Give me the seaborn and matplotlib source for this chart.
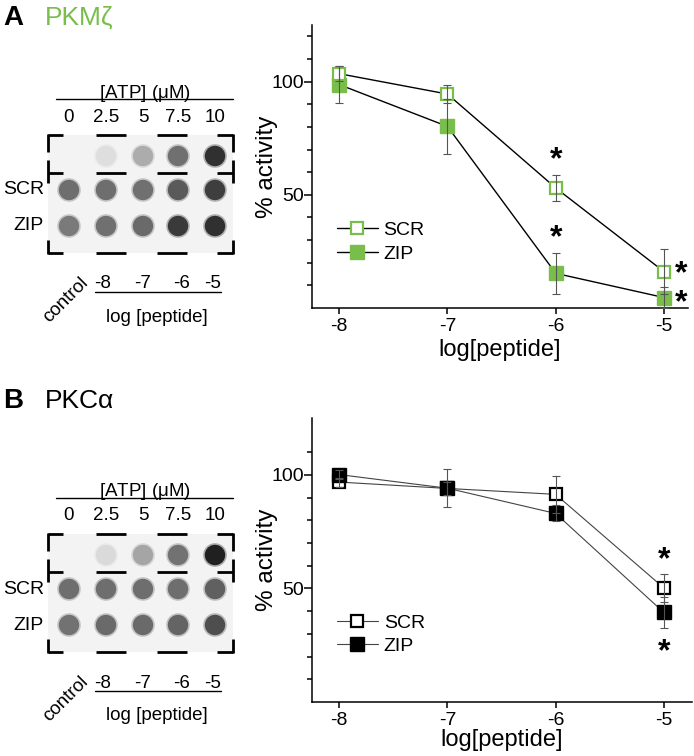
import numpy as np
import pandas as pd
import matplotlib
matplotlib.use("Agg")
import matplotlib.pyplot as plt
import seaborn as sns
from matplotlib.lines import Line2D
from matplotlib.patches import Rectangle
from matplotlib.ticker import FixedLocator

sns.set_theme(style="white")
plt.rcParams['font.family'] = ['Liberation Sans', 'DejaVu Sans']
plt.rcParams['axes.unicode_minus'] = False
plt.rcParams['mathtext.fontset'] = 'dejavusans'
plt.rcParams['text.color'] = 'black'
plt.rcParams['axes.labelcolor'] = 'black'
plt.rcParams['xtick.color'] = 'black'
plt.rcParams['ytick.color'] = 'black'

GREEN = "#79bd4b"

# ---- data ----
log_peptide = [-8, -7, -6, -5]
peptide_labels = ["-8", "-7", "-6", "-5"]
atp_levels = ["0", "2.5", "5", "7.5", "10"]

# % activity (mean, error)
pkmz_scr = [103.5, 94.5, 53.0, 16.0]
pkmz_scr_err = [3.4, 3.8, 5.7, 10.0]
pkmz_zip = [98.7, 80.2, 15.3, 4.6]
pkmz_zip_err = [8.1, 12.0, 9.0, 4.6]

pkca_scr = [96.8, 94.0, 91.4, 50.2]
pkca_scr_err = [2.0, 3.0, 8.0, 6.0]
pkca_zip = [100.1, 94.1, 83.0, 39.4]
pkca_zip_err = [2.0, 8.3, 3.5, 7.0]

# dot blot grey levels (0 black .. 255 white), NaN = no spot
pkmz_blot_atp = [np.nan, 222, 172, 112, 48]
pkmz_blot_scr = [110, 110, 112, 90, 62]
pkmz_blot_zip = [122, 112, 106, 58, 48]

pkca_blot_atp = [np.nan, 218, 165, 114, 32]
pkca_blot_scr = [110, 110, 110, 110, 96]
pkca_blot_zip = [114, 106, 106, 100, 78]

# asterisks: (x, y, text) in data units; stacked pair written as one text
pkmz_stars = [(-6, 67.0, "*"), (-6, 32.5, "*"), (-4.84, 8.5, "*\n*")]
pkca_stars = [(-5, 64.0, "*"), (-5, 23.5, "*")]

W, H = 694, 756
fig = plt.figure(figsize=(W / 100, H / 100), dpi=100)

# overlay axes in pixel coordinates for the blot images and panel titles
bax = fig.add_axes([0, 0, 1, 1])
bax.set_xlim(0, W)
bax.set_ylim(H, 0)
bax.axis("off")

col_x = [69, 106, 143, 178, 215]
row_y = [156, 190, 226]


def draw_blot(ax, dy, rows, letter, name, name_color, title_dy):
    ax.text(3, 25 + title_dy, letter, fontsize=20, fontweight="bold", va="baseline")
    ax.text(45, 25 + title_dy, name, fontsize=19, color=name_color, va="baseline")

    ax.add_patch(Rectangle((48, 135 + dy), 185, 118, color="#f3f3f3", zorder=0, lw=0))

    kw = dict(color="black", lw=2, solid_capstyle="butt", zorder=3)
    for yb in (135, 173, 253):
        y = yb + dy
        for a, b in ((96, 126), (157, 187)):
            ax.plot([a, b], [y, y], **kw)
        ax.plot([48, 63], [y, y], **kw)
        ax.plot([217, 233], [y, y], **kw)
    # corner / side verticals
    for x in (48, 233):
        ax.plot([x, x], [134 + dy, 152 + dy], **kw)
        ax.plot([x, x], [160 + dy, 183 + dy], **kw)
        ax.plot([x, x], [240 + dy, 254 + dy], **kw)

    recs = []
    for r, vals in enumerate(rows):
        for c, v in enumerate(vals):
            if not np.isnan(v):
                recs.append({"x": col_x[c], "y": row_y[r] + dy, "level": v})
    df = pd.DataFrame(recs)
    sns.scatterplot(data=df, x="x", y="y", hue="level", palette="gray", hue_norm=(0, 255),
                    s=290, linewidth=0, alpha=0.35, legend=False, ax=ax, zorder=1)
    sns.scatterplot(data=df, x="x", y="y", hue="level", palette="gray", hue_norm=(0, 255),
                    s=215, linewidth=0, legend=False, ax=ax, zorder=2)

    ax.text(145, 93 + dy, r"[ATP] ($\mathregular{\mu}$M)", fontsize=13.5, ha="center", va="center")
    ax.plot([56, 233], [99 + dy, 99 + dy], color="black", lw=1)
    for x, lab in zip(col_x, atp_levels):
        ax.text(x, 117 + dy, lab, fontsize=13.5, ha="center", va="center")
    ax.text(44, 190 + dy, "SCR", fontsize=14, ha="right", va="center")
    ax.text(44, 226 + dy, "ZIP", fontsize=14, ha="right", va="center")

    for x, lab in zip([103, 143, 182, 213], peptide_labels):
        ax.text(x, 284 + dy, lab, fontsize=13.5, ha="center", va="center")
    ax.plot([95, 221], [292 + dy, 292 + dy], color="black", lw=1)
    ax.text(157, 317 + dy, "log [peptide]", fontsize=13.5, ha="center", va="center")
    ax.text(66, 300 + dy, "control", fontsize=13.5, ha="center", va="center", rotation=45,
            rotation_mode="anchor")


def draw_curve(ax, scr, scr_err, zp, zp_err, color, line_color, line_w, msize, scr_on_top,
               xmax, minor, stars, leg_y, ylab_x, xlab_pad):
    df = pd.DataFrame({"log": log_peptide, "SCR": scr, "ZIP": zp})
    z_scr, z_zip = (3, 2) if scr_on_top else (2, 3)
    sns.lineplot(data=df, x="log", y="ZIP", ax=ax, color=line_color, lw=line_w, marker="s",
                 markersize=msize, markerfacecolor=color, markeredgecolor=color,
                 markeredgewidth=1, zorder=z_zip)
    sns.lineplot(data=df, x="log", y="SCR", ax=ax, color=line_color, lw=line_w, marker="s",
                 markersize=msize - 1.2, markerfacecolor="white", markeredgecolor=color,
                 markeredgewidth=1.6, zorder=z_scr)
    ax.errorbar(log_peptide, scr, yerr=scr_err, fmt="none", ecolor="#555555", elinewidth=0.8,
                capsize=3, capthick=0.8, zorder=5)
    ax.errorbar(log_peptide, zp, yerr=zp_err, fmt="none", ecolor="#555555", elinewidth=0.8,
                capsize=3, capthick=0.8, zorder=5)

    for x, y, s in stars:
        if "\n" in s:
            ax.text(x, y, s, fontsize=23, fontweight="bold", ha="center", va="center",
                    linespacing=0.92, zorder=6)
        else:
            ax.text(x, y, s, fontsize=23, fontweight="bold", ha="center",
                    va="center_baseline", zorder=6)

    ax.set_xlim(-8.25, xmax)
    ax.set_ylim(0, 125)
    ax.set_xticks(log_peptide)
    ax.set_xticklabels(peptide_labels)
    ax.set_yticks([50, 100])
    ax.yaxis.set_minor_locator(FixedLocator(minor))
    ax.tick_params(axis="y", which="major", direction="out", length=6, width=1.1, labelsize=14,
                   pad=0, left=True)
    ax.tick_params(axis="y", which="minor", direction="out", length=3.5, width=1.1, left=True)
    ax.tick_params(axis="x", which="major", direction="out", length=4, width=1.1, labelsize=14,
                   pad=3, bottom=True)
    for s in ("top", "right"):
        ax.spines[s].set_visible(False)
    for s in ("left", "bottom"):
        ax.spines[s].set_linewidth(1.1)
        ax.spines[s].set_color("black")
    ax.set_xlabel("log[peptide]", fontsize=17, labelpad=xlab_pad)
    ax.set_ylabel("% activity", fontsize=17.5)
    ax.yaxis.set_label_coords(ylab_x, 0.5)
    ax.grid(False)

    handles = [
        Line2D([], [], color=line_color, lw=line_w, marker="s", markersize=msize - 1.2,
               markerfacecolor="white", markeredgecolor=color, markeredgewidth=1.6),
        Line2D([], [], color=line_color, lw=line_w, marker="s", markersize=msize,
               markerfacecolor=color, markeredgecolor=color),
    ]
    ax.legend(handles, ["SCR", "ZIP"], loc="upper left", bbox_to_anchor=(0.066, leg_y),
              frameon=False, fontsize=14, handlelength=2.1, handletextpad=0.3,
              labelspacing=0.3, borderpad=0, borderaxespad=0)


# ---- panel A : PKMzeta ----
draw_blot(bax, 0, [pkmz_blot_atp, pkmz_blot_scr, pkmz_blot_zip], "A", "PKM\u03b6", GREEN, 0)
axA = fig.add_axes([312 / W, 1 - 308 / H, 376 / W, 283 / H])
draw_curve(axA, pkmz_scr, pkmz_scr_err, pkmz_zip, pkmz_zip_err, GREEN, "black", 1.0, 9.5,
           True, -4.78, [10, 20, 30, 40, 60, 70, 80, 90, 110, 120], pkmz_stars, 0.305,
           -34 / 376, 3)

# ---- panel B : PKCalpha ----
draw_blot(bax, 399, [pkca_blot_atp, pkca_blot_scr, pkca_blot_zip], "B", "PKC\u03b1", "black", 383)
axB = fig.add_axes([312 / W, 1 - 702 / H, 380 / W, 284 / H])
draw_curve(axB, pkca_scr, pkca_scr_err, pkca_zip, pkca_zip_err, "black", "#444444", 0.8, 10.5,
           False, -4.74, [10, 20, 30, 40, 60, 70, 80, 90, 110], pkca_stars, 0.31,
           -34 / 380, 0)

fig.savefig("out.png", dpi=100)
